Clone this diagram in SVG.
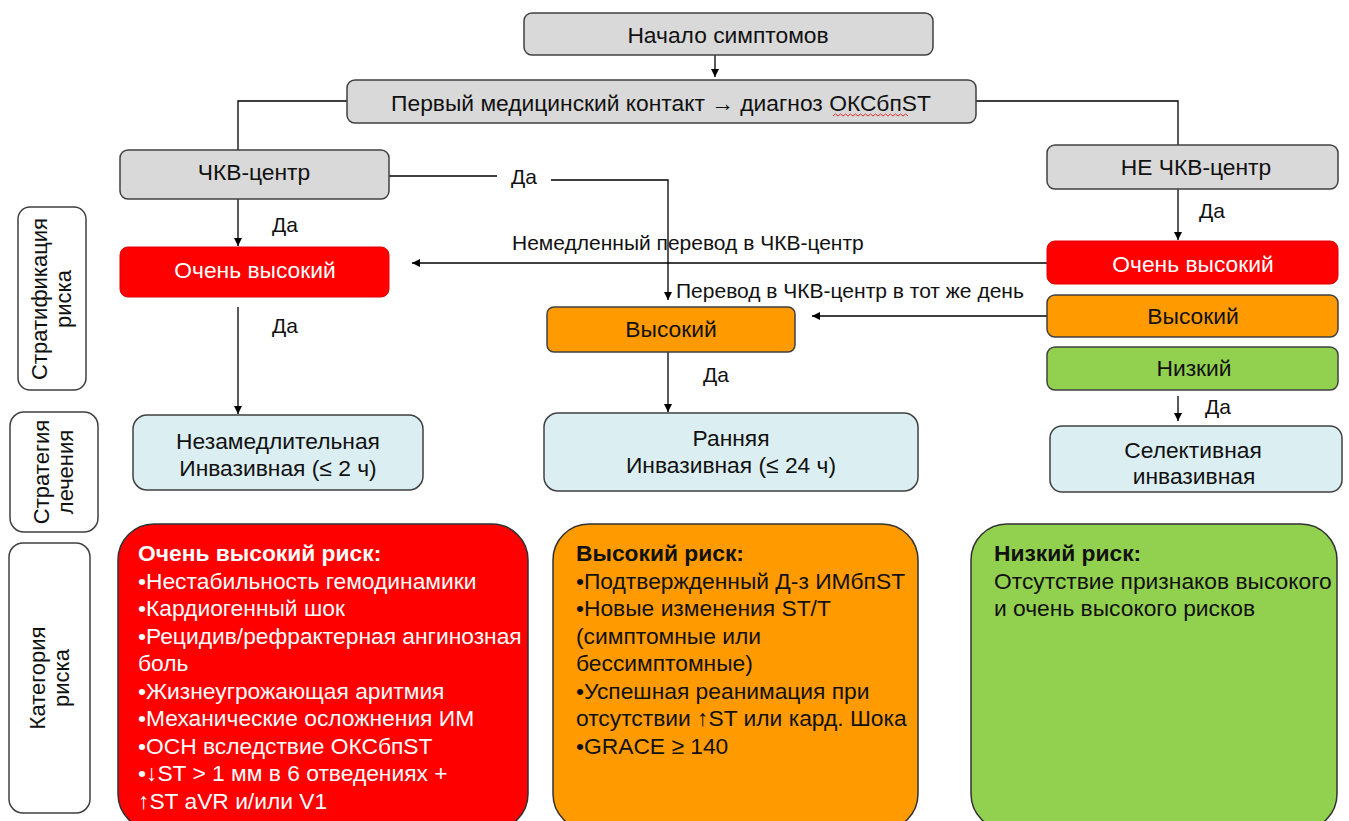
<svg xmlns="http://www.w3.org/2000/svg" width="1349" height="821" viewBox="0 0 1349 821">
<defs>
<marker id="ah" viewBox="0 0 10 10" refX="10" refY="5" markerWidth="8" markerHeight="8" markerUnits="userSpaceOnUse" orient="auto">
<path d="M0,0 L10,5 L0,10 z" fill="#000"/>
</marker>
<style>
text{font-family:"Liberation Sans",Arial,sans-serif;font-size:22.8px;fill:#111}
.c{text-anchor:middle}
.w{fill:#fff}
.b{font-weight:bold}
.lbl{font-size:21px}
.sd{font-size:22px}
.gray{fill:#d9d9d9;stroke:#404040;stroke-width:1.5}
.red{fill:#ff0000;stroke:#e00000;stroke-width:1}
.org{fill:#ff9a00;stroke:#404040;stroke-width:1.5}
.grn{fill:#92d050;stroke:#404040;stroke-width:1.5}
.blu{fill:#dbeef1;stroke:#404040;stroke-width:1.5}
.side{fill:#fff;stroke:#404040;stroke-width:1.5}
.big{stroke:#303030;stroke-width:1.5}
.ln{fill:none;stroke:#000;stroke-width:1.3}
</style>
</defs>
<rect width="1349" height="821" fill="#fff"/>

<g id="connectors">
<path class="ln" d="M715,55 V77" marker-end="url(#ah)"/>
<path class="ln" d="M347,101 H238 V150"/>
<path class="ln" d="M976,101 H1178 V146"/>
<path class="ln" d="M389,176 H497"/>
<path class="ln" d="M551,180 H668 V300" marker-end="url(#ah)"/>
<path class="ln" d="M238,199 V246" marker-end="url(#ah)"/>
<path class="ln" d="M238,307 V414" marker-end="url(#ah)"/>
<path class="ln" d="M1047,263 H412" marker-end="url(#ah)"/>
<path class="ln" d="M1047,316 H812" marker-end="url(#ah)"/>
<path class="ln" d="M668,352 V412" marker-end="url(#ah)"/>
<path class="ln" d="M1178,189 V240" marker-end="url(#ah)"/>
<path class="ln" d="M1178,396 V421" marker-end="url(#ah)"/>
<text x="511" y="184" class="lbl">Да</text>
<text x="272" y="232" class="lbl">Да</text>
<text x="512" y="250" class="lbl">Немедленный перевод в ЧКВ-центр</text>
<text x="676" y="298" class="lbl">Перевод в ЧКВ-центр в тот же день</text>
<text x="272" y="333" class="lbl">Да</text>
<text x="703" y="382" class="lbl">Да</text>
<text x="1199" y="218" class="lbl">Да</text>
<text x="1205" y="414" class="lbl">Да</text>
</g>

<g id="n-start">
<rect class="gray" x="524" y="13" width="409" height="42" rx="8"/>
<text class="c" x="728" y="43">Начало симптомов</text>
</g>
<g id="n-contact">
<rect class="gray" x="347" y="80" width="629" height="43" rx="8"/>
<text class="c" x="661" y="111">Первый медицинский контакт → диагноз ОКСбпST</text>
<path d="M833,116 l2.5,-2 l2.5,2 l2.5,-2 l2.5,2 l2.5,-2 l2.5,2 l2.5,-2 l2.5,2 l2.5,-2 l2.5,2 l2.5,-2 l2.5,2 l2.5,-2 l2.5,2 l2.5,-2 l2.5,2 l2.5,-2 l2.5,2 l2.5,-2 l2.5,2 l2.5,-2 l2.5,2 l2.5,-2 l2.5,2 l2.5,-2 l2.5,2 l2.5,-2 l2.5,2 l2.5,-2 l2.5,2" fill="none" stroke="#e03030" stroke-width="1"/>
</g>
<g id="n-pci">
<rect class="gray" x="120" y="150" width="269" height="49" rx="8"/>
<text class="c" x="254" y="180">ЧКВ-центр</text>
</g>
<g id="n-nonpci">
<rect class="gray" x="1047" y="145" width="291" height="44" rx="8"/>
<text class="c" x="1196" y="175">НЕ ЧКВ-центр</text>
</g>
<g id="n-vhigh-left">
<rect class="red" x="120" y="247" width="269" height="50" rx="8"/>
<text class="c w" x="255" y="278">Очень высокий</text>
</g>
<g id="n-high-mid">
<rect class="org" x="547" y="307" width="248" height="45" rx="7"/>
<text class="c" x="671" y="337">Высокий</text>
</g>
<g id="n-vhigh-right">
<rect class="red" x="1047" y="241" width="291" height="43" rx="8"/>
<text class="c w" x="1193" y="272">Очень высокий</text>
</g>
<g id="n-high-right">
<rect class="org" x="1047" y="295" width="291" height="42" rx="8"/>
<text class="c" x="1193" y="324">Высокий</text>
</g>
<g id="n-low-right">
<rect class="grn" x="1047" y="347" width="291" height="43" rx="8"/>
<text class="c" x="1194" y="376">Низкий</text>
</g>
<g id="n-immediate">
<rect class="blu" x="133" y="415" width="290" height="75" rx="14"/>
<text class="c" x="278" y="449">Незамедлительная</text>
<text class="c" x="278" y="476">Инвазивная (≤ 2 ч)</text>
</g>
<g id="n-early">
<rect class="blu" x="544" y="413" width="374" height="78" rx="14"/>
<text class="c" x="731" y="446">Ранняя</text>
<text class="c" x="731" y="473">Инвазивная (≤ 24 ч)</text>
</g>
<g id="n-selective">
<rect class="blu" x="1050" y="426" width="292" height="66" rx="12"/>
<text class="c" x="1193" y="458">Селективная</text>
<text class="c" x="1194" y="484">инвазивная</text>
</g>

<g id="side-strat">
<rect class="side" x="18" y="207" width="68" height="183" rx="12"/>
<g transform="translate(52,299) rotate(-90)">
<text class="c sd" x="0" y="-5">Стратификация</text>
<text class="c sd" x="0" y="19">риска</text>
</g>
</g>
<g id="side-strategy">
<rect class="side" x="10" y="412" width="88" height="120" rx="14"/>
<g transform="translate(54,472) rotate(-90)">
<text class="c sd" x="0" y="-5">Стратегия</text>
<text class="c sd" x="0" y="19">лечения</text>
</g>
</g>
<g id="side-category">
<rect class="side" x="9" y="543" width="81" height="270" rx="14"/>
<g transform="translate(50,678) rotate(-90)">
<text class="c sd" x="0" y="-5">Категория</text>
<text class="c sd" x="0" y="19">риска</text>
</g>
</g>

<g id="cat-vhigh">
<rect class="big" fill="#ff0000" x="118" y="524" width="410" height="306" rx="36"/>
<text class="w b" x="138" y="561">Очень высокий риск:</text>
<text class="w" x="138" y="588.5">•Нестабильность гемодинамики</text>
<text class="w" x="138" y="616">•Кардиогенный шок</text>
<text class="w" x="138" y="643.5">•Рецидив/рефрактерная ангинозная</text>
<text class="w" x="138" y="671">боль</text>
<text class="w" x="138" y="698.5">•Жизнеугрожающая аритмия</text>
<text class="w" x="138" y="726">•Механические осложнения ИМ</text>
<text class="w" x="138" y="753.5">•ОСН вследствие ОКСбпST</text>
<text class="w" x="138" y="781">•↓ST &gt; 1 мм в 6 отведениях +</text>
<text class="w" x="138" y="808.5">↑ST aVR и/или V1</text>
</g>
<g id="cat-high">
<rect class="big" fill="#ff9a00" x="553" y="524" width="365" height="306" rx="36"/>
<text class="b" x="576" y="561">Высокий риск:</text>
<text x="576" y="588.5">•Подтвержденный Д-з ИМбпST</text>
<text x="576" y="616">•Новые изменения ST/T</text>
<text x="576" y="643.5">(симптомные или</text>
<text x="576" y="671">бессимптомные)</text>
<text x="576" y="698.5">•Успешная реанимация при</text>
<text x="576" y="726">отсутствии ↑ST или кард. Шока</text>
<text x="576" y="753.5">•GRACE ≥ 140</text>
</g>
<g id="cat-low">
<rect class="big" fill="#92d050" x="971" y="524" width="366" height="306" rx="36"/>
<text class="b" x="994" y="561">Низкий риск:</text>
<text x="994" y="588.5">Отсутствие признаков высокого</text>
<text x="994" y="616">и очень высокого рисков</text>
</g>
</svg>
